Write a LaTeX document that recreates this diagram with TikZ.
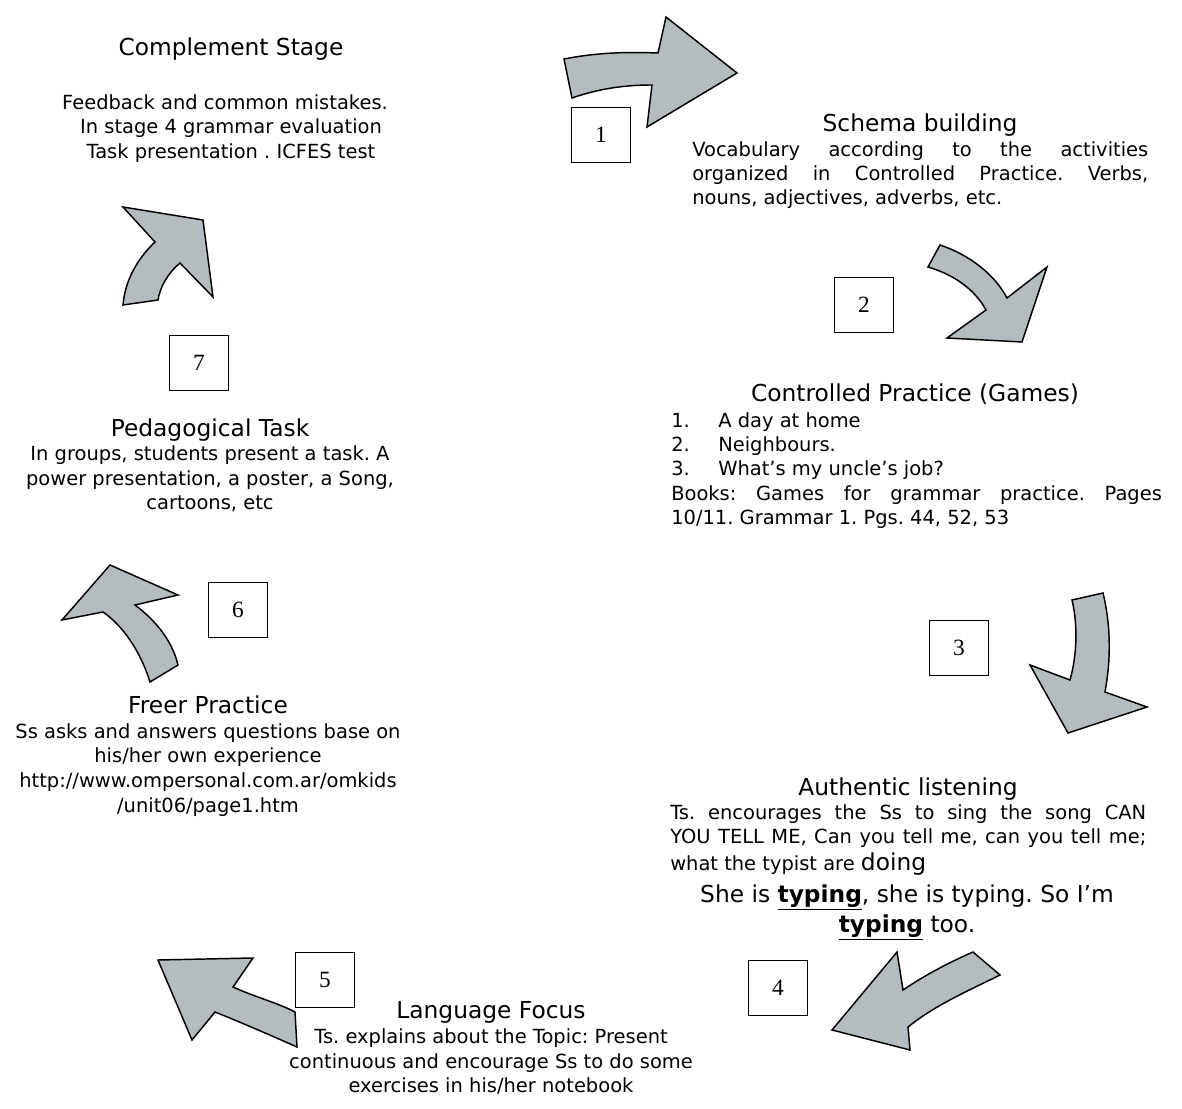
\documentclass[tikz,border=0pt]{standalone}
\usepackage{fontspec}
\setmainfont{DejaVu Sans}
\newfontfamily\numfont{Liberation Serif}
\definecolor{arrowgray}{RGB}{180,188,191}
\frenchspacing
\begin{document}
\begin{tikzpicture}[x=0.75pt,y=-0.75pt,
  bigarrow/.style={draw=black,fill=arrowgray,line width=1.1pt,line join=miter},
  numbox/.style={draw=black,line width=0.8pt,minimum width=44pt,minimum height=41pt,inner sep=0pt,font=\numfont\fontsize{17.5}{20}\selectfont},
  ttl/.style={font=\fontsize{17.5}{21}\selectfont,anchor=base,inner sep=0pt},
  bodyc/.style={font=\fontsize{14.6}{18}\selectfont,anchor=base,inner sep=0pt},
  bodyl/.style={font=\fontsize{14.6}{18}\selectfont,anchor=base west,inner sep=0pt},
  big/.style={font=\fontsize{17.5}{21}\selectfont,anchor=base,inner sep=0pt}]
\useasboundingbox (0,0) rectangle (1182,1109);

% ---- arrows ----
\draw[bigarrow] (564,59) .. controls (600,52) and (630,52) .. (658,53) -- (666,17) -- (737,73) -- (647,127) -- (652,85) .. controls (620,85) and (595,90) .. (572,98) -- cycle;
\draw[bigarrow] (940,245) .. controls (970,255) and (995,275) .. (1007,298) -- (1047,267) -- (1022,342) -- (947,338) -- (986,310) .. controls (975,290) and (955,275) .. (928,267) -- cycle;
\draw[bigarrow] (1072,600) -- (1103,593) .. controls (1112,630) and (1110,665) .. (1105,692) -- (1147,707) -- (1068,733) -- (1030,665) -- (1070,680) .. controls (1077,655) and (1078,625) .. (1072,600) -- cycle;
\draw[bigarrow] (973,952) -- (1000,975) .. controls (970,990) and (935,1005) .. (908,1027) -- (910,1050) -- (832,1030) -- (897,952) -- (903,990) .. controls (925,975) and (950,962) .. (973,952) -- cycle;
\draw[bigarrow] (158,960) -- (253,958) -- (233,987) .. controls (255,997) and (278,1003) .. (295,1012) -- (297,1047) .. controls (270,1035) and (240,1022) .. (215,1012) -- (192,1040) -- cycle;
\draw[bigarrow] (110,565) -- (178,595) -- (135,605) .. controls (155,620) and (172,640) .. (178,665) -- (150,682) .. controls (140,650) and (122,625) .. (103,612) -- (62,620) -- cycle;
\draw[bigarrow] (123,207) -- (203,220) -- (213,297) -- (180,263) .. controls (168,273) and (160,287) .. (158,300) -- (123,305) .. controls (125,280) and (138,258) .. (155,242) -- cycle;

% ---- numbered boxes ----
\node[numbox] (b1) at (601,135) {1};
\node[numbox] (b2) at (864,305) {2};
\node[numbox] (b3) at (959,648) {3};
\node[numbox] (b4) at (778,988) {4};
\node[numbox] (b5) at (325,980) {5};
\node[numbox] (b6) at (238,610) {6};
\node[numbox] (b7) at (199,363) {7};

% ---- Complement Stage ----
\node[ttl] (cs) at (231,56) {Complement Stage};
\node[bodyc] (cs1) at (225,110) {Feedback and common mistakes.};
\node[bodyc] (cs2) at (231,134) {In stage 4 grammar evaluation};
\node[bodyc] (cs3) at (231,159) {Task presentation . ICFES test};

% ---- Schema building ----
\node[ttl] (sb) at (920,132) {Schema building};
\node[bodyl] (sb1) at (692,157) {\makebox[342pt][s]{Vocabulary according to the activities}};
\node[bodyl] (sb2) at (692,181) {\makebox[342pt][s]{organized in Controlled Practice. Verbs,}};
\node[bodyl] (sb3) at (692,205) {nouns, adjectives, adverbs, etc.};

% ---- Controlled Practice ----
\node[ttl] (cp) at (915,402) {Controlled Practice (Games)};
\node[bodyl] (cpn1) at (671,427) {1.};
\node[bodyl] (cpt1) at (718,427) {A day at home};
\node[bodyl] (cpn2) at (671,451) {2.};
\node[bodyl] (cpt2) at (718,451) {Neighbours.};
\node[bodyl] (cpn3) at (671,475) {3.};
\node[bodyl] (cpt3) at (718,475) {What’s my uncle’s job?};
\node[bodyl] (cp4) at (671,500) {\makebox[368pt][s]{Books: Games for grammar practice. Pages}};
\node[bodyl] (cp5) at (671,524) {10/11. Grammar 1. Pgs. 44, 52, 53};

% ---- Authentic listening ----
\node[ttl] (al) at (908,795) {Authentic listening};
\node[bodyl] (al1) at (670,819) {\makebox[357pt][s]{Ts. encourages the Ss to sing the song CAN}};
\node[bodyl] (al2) at (670,843) {\makebox[357pt][s]{YOU TELL ME, Can you tell me, can you tell me;}};
\node[bodyl] (al3) at (670,870) {what the typist are {\fontsize{17.5}{21}\selectfont doing}};
\node[big] (al4) at (907,902) {She is \underline{\textbf{typing}}, she is typing. So I’m};
\node[big] (al5) at (907,932) {\underline{\textbf{typing}} too.};

% ---- Language Focus ----
\node[ttl] (lf) at (491,1018) {Language Focus};
\node[bodyc] (lf1) at (491,1043) {Ts. explains about the Topic: Present};
\node[bodyc] (lf2) at (491,1068) {continuous and encourage Ss to do some};
\node[bodyc] (lf3) at (491,1092) {exercises in his/her notebook};

% ---- Freer Practice ----
\node[ttl] (fp) at (208,713) {Freer Practice};
\node[bodyc] (fp1) at (208,738) {Ss asks and answers questions base on};
\node[bodyc] (fp2) at (208,762) {his/her own experience};
\node[bodyc] (fp3) at (208,787) {http://www.ompersonal.com.ar/omkids};
\node[bodyc] (fp4) at (208,812) {/unit06/page1.htm};

% ---- Pedagogical Task ----
\node[ttl] (pt) at (210,436) {Pedagogical Task};
\node[bodyc] (pt1) at (210,460) {In groups, students present a task. A};
\node[bodyc] (pt2) at (210,485) {power presentation, a poster, a Song,};
\node[bodyc] (pt3) at (210,509) {cartoons, etc};
\end{tikzpicture}
\end{document}
